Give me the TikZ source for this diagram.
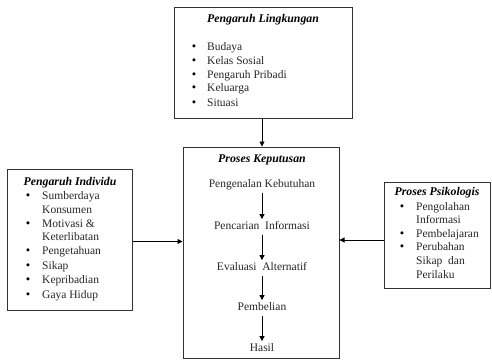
\documentclass[tikz,border=0pt]{standalone}
\usepackage{fontspec}
\setmainfont{Liberation Serif}
\usetikzlibrary{arrows.meta,positioning}
\tikzset{
  box/.style={draw=black!80, line width=1pt, fill=white, inner sep=0pt},
  ttl/.style={font=\fontsize{11.8}{13}\selectfont\bfseries\itshape, inner sep=0pt, anchor=mid},
  itm/.style={font=\fontsize{11.5}{14}\selectfont, inner sep=0pt, anchor=mid west, text=black!85},
  bul/.style={font=\fontsize{12.5}{14}\selectfont, inner sep=0pt, anchor=mid},
  stp/.style={font=\fontsize{11.5}{14}\selectfont, inner sep=2pt, text height=8pt, text depth=3pt, anchor=mid, text=black!85},
  arr/.style={draw=black, line width=0.9pt, -{Triangle[length=5pt,width=5pt]}}
}
\begin{document}
\begin{tikzpicture}[x=1pt,y=-1pt]
\useasboundingbox (0,0) rectangle (492,360);
% boxes
\node[box, minimum width=178pt, minimum height=111pt] (top) at (263,62.5) {};
\node[box, minimum width=156pt, minimum height=211pt] (mid) at (261,252.5) {};
\node[box, minimum width=125pt, minimum height=141pt] (lft) at (69.5,239.5) {};
\node[box, minimum width=106pt, minimum height=106pt] (rgt) at (437,235) {};
% top box text
\node[ttl] (ttop) at (263,20) {Pengaruh Lingkungan};
\foreach \t/\y [count=\i] in {Budaya/48, Kelas Sosial/62, Pengaruh Pribadi/76, Keluarga/89, Situasi/104}{
  \node[bul] (tb\i) at (194,\y) {\textbullet};
  \node[itm] (ti\i) at (207,\y) {\t};
}
% left box text
\node[ttl] (tlft) at (70,183) {Pengaruh Individu};
\foreach \y [count=\i] in {197,225,252,267,281,296}{
  \node[bul] (lb\i) at (28,\y) {\textbullet};
}
\foreach \t/\y [count=\i] in {Sumberdaya/197, Konsumen/211, Motivasi \&/225, Keterlibatan/238, Pengetahuan/252, Sikap/267, Kepribadian/281, Gaya Hidup/296}{
  \node[itm] (li\i) at (42,\y) {\t};
}
% right box text
\node[ttl] (trgt) at (437,193) {Proses Psikologis};
\foreach \y [count=\i] in {208,235,248}{
  \node[bul] (rb\i) at (402,\y) {\textbullet};
}
\foreach \t/\y [count=\i] in {Pengolahan/208, Informasi/221, Pembelajaran/235, Perubahan/248, Sikap\ \ dan/262, Perilaku/276}{
  \node[itm] (ri\i) at (416,\y) {\t};
}
% center box text
\node[ttl] (tmid) at (262,160) {Proses Keputusan};
\node[stp] (s1) at (262,185) {Pengenalan Kebutuhan};
\node[stp] (s2) at (262,227) {Pencarian\ \ Informasi};
\node[stp] (s3) at (262,268) {Evaluasi\ \ Alternatif};
\node[stp] (s4) at (262,308) {Pembelian};
\node[stp] (s5) at (262,349) {Hasil};
\draw[arr] (s1) -- (s2);
\draw[arr] (s2) -- (s3);
\draw[arr] (s3) -- (s4);
\draw[arr] (s4) -- (s5);
% connectors
\draw[arr] (top.south -| 262,0) -- (mid.north -| 262,0);
\draw[arr] ([yshift=-2pt]lft.east) -- ([yshift=-2pt]lft.east -| mid.west);
\draw[arr] ([yshift=-5pt]rgt.west) -- ([yshift=-5pt]rgt.west -| mid.east);
\end{tikzpicture}
\end{document}
